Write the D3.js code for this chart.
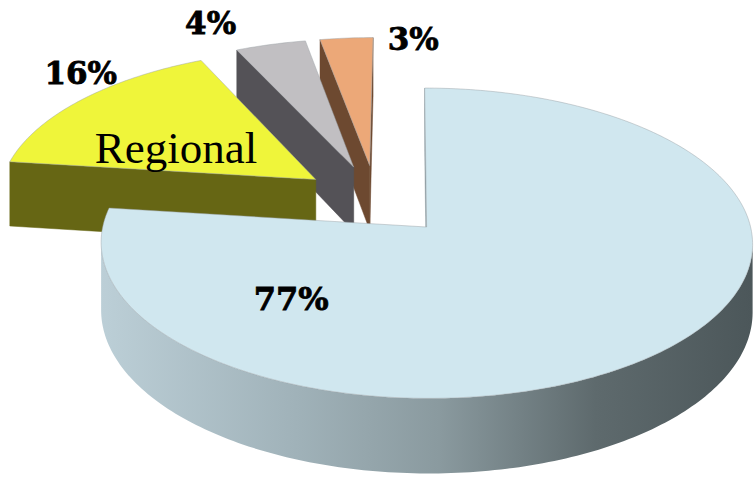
<!DOCTYPE html>
<html>
<head>
<meta charset="utf-8">
<script src="https://cdn.jsdelivr.net/npm/d3@7"></script>
<style>
  html, body { margin: 0; padding: 0; background: #ffffff; }
  svg { display: block; }
</style>
</head>
<body>
<svg id="chart" width="755" height="477"></svg>
<script>
// ---- data ----
const categories = ["", "Regional", "", ""];
const values = [77, 16, 4, 3];
const valueLabels = ["77%", "16%", "4%", "3%"];

// ---- styles ----
const topColors  = ["#d0e7ef", "#eff53a", "#c1bfc2", "#eca878"];
const sideColors = ["#8c9ca2", "#666614", "#545257", "#6d4930"];
// label placement: [angle in degrees, radius factor] relative to each slice's apex
const labelPlace = [[222, 0.60], [314, 1.16], [335, 1.26], [8.2, 1.0]];
const namePlace  = [null, [297, 0.52], null, null];

// ---- geometry (3D projection) ----
const R = 318, D = 3100, K = 0.465, HH = 66, CX = 376, CY = 200, CAMX = 30, EXPL = 76;

function proj(X, Z, Y) {
  const s = 1 / (1 - Z / D);
  return [CX + CAMX + (X - CAMX) * s, CY + (Z * K + Y) * s];
}

const svg = d3.select("#chart");
const defs = svg.append("defs");
const grad = defs.append("linearGradient")
  .attr("id", "bigSide").attr("gradientUnits", "userSpaceOnUse")
  .attr("x1", 100).attr("x2", 752).attr("y1", 0).attr("y2", 0);
[[0, "#bccfd7"], [0.3, "#a0b2b9"], [0.52, "#8a9a9f"], [0.76, "#5e6a6d"], [1, "#4c575a"]]
  .forEach(([o, c]) => grad.append("stop").attr("offset", o).attr("stop-color", c));

const pie = d3.pie().sort(null).value(d => d).startAngle(0).endAngle(2 * Math.PI);
const arcs = pie(values);

const line = d3.line();

const slices = arcs.map((a, i) => {
  const mid = (a.startAngle + a.endAngle) / 2;
  const ox = EXPL * Math.sin(mid), oz = -EXPL * Math.cos(mid);
  const pt = (th, r) => [ox + r * Math.sin(th), oz - r * Math.cos(th)];
  return { i, a, mid, ox, oz, pt };
});

// back to front
const order = slices.slice().sort((p, q) => p.oz - q.oz);

const cam = [CAMX, D];
const g = svg.append("g");

order.forEach(sl => {
  const { i, a, ox, oz, pt } = sl;
  const a0 = a.startAngle, a1 = a.endAngle;
  const n = Math.max(2, Math.ceil((a1 - a0) / (Math.PI / 180)));
  const thetas = d3.range(n + 1).map(k => a0 + (a1 - a0) * k / n);
  const layer = g.append("g");
  const sideFill = i === 0 ? "url(#bigSide)" : sideColors[i];

  // radial faces
  const radial = (th, nrm) => {
    const vis = (cam[0] - ox) * nrm[0] + (cam[1] - oz) * nrm[1] > 0;
    if (!vis) return;
    const rim = pt(th, R);
    const poly = [proj(ox, oz, 0), proj(rim[0], rim[1], 0), proj(rim[0], rim[1], HH), proj(ox, oz, HH)];
    layer.append("path").attr("d", line(poly) + "Z")
      .attr("fill", sideColors[i]).attr("stroke", sideColors[i]).attr("stroke-width", 0.5);
  };
  radial(a0, [-Math.cos(a0), -Math.sin(a0)]);
  radial(a1, [Math.cos(a1), Math.sin(a1)]);

  // curved outer side: visible portion
  const visT = thetas.filter(th => {
    const p = pt(th, R);
    return (cam[0] - p[0]) * Math.sin(th) + (cam[1] - p[1]) * (-Math.cos(th)) > 0;
  });
  if (visT.length > 1) {
    const topRim = visT.map(th => { const p = pt(th, R); return proj(p[0], p[1], 0); });
    const botRim = visT.slice().reverse().map(th => { const p = pt(th, R); return proj(p[0], p[1], HH); });
    layer.append("path").attr("d", line(topRim.concat(botRim)) + "Z")
      .attr("fill", sideFill);
  }

  // top face
  const topPts = [proj(ox, oz, 0)].concat(thetas.map(th => { const p = pt(th, R); return proj(p[0], p[1], 0); }));
  layer.append("path").attr("d", line(topPts) + "Z")
    .attr("fill", topColors[i])
    .attr("stroke", "#9aa0a3").attr("stroke-opacity", 0.45).attr("stroke-width", 1);
});

// labels
const labelAt = (sl, place) => {
  const th = place[0] * Math.PI / 180;
  const p = sl.pt(th, R * place[1]);
  return proj(p[0], p[1], 0);
};

slices.forEach(sl => {
  const [x, y] = labelAt(sl, labelPlace[sl.i]);
  svg.append("text")
    .attr("x", x).attr("y", y).attr("dy", "0.36em")
    .attr("text-anchor", "middle")
    .attr("font-family", "'DejaVu Serif', serif")
    .attr("font-weight", "bold")
    .attr("font-size", sl.i === 0 ? 32 : 31)
    .attr("fill", "#000")
    .attr("stroke", "#000").attr("stroke-width", 0.8)
    .text(valueLabels[sl.i]);
  if (namePlace[sl.i] && categories[sl.i]) {
    const [nx, ny] = labelAt(sl, namePlace[sl.i]);
    svg.append("text")
      .attr("x", nx).attr("y", ny).attr("dy", "0.36em")
      .attr("text-anchor", "middle")
      .attr("font-family", "'Liberation Serif', serif")
      .attr("font-size", 45)
      .attr("fill", "#000")
      .text(categories[sl.i]);
  }
});
</script>
</body>
</html>
